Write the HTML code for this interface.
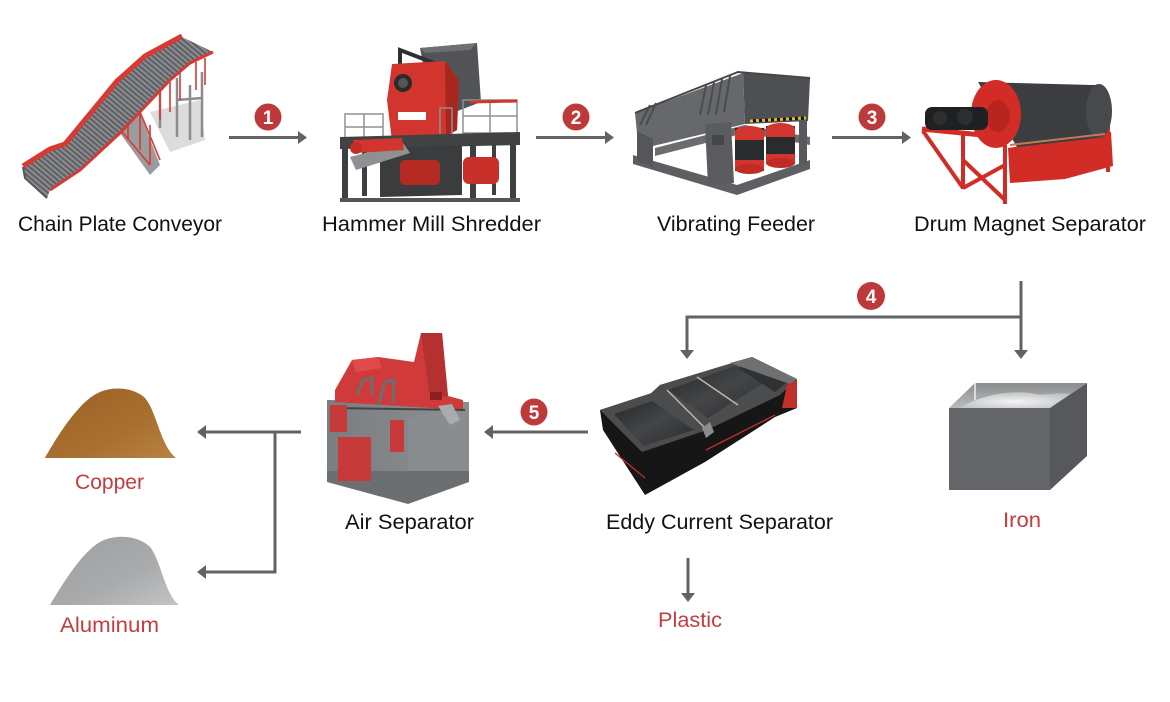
<!DOCTYPE html>
<html><head><meta charset="utf-8"><style>
html,body{margin:0;padding:0;background:#fff;}
svg{display:block;}
text{font-family:"Liberation Sans",sans-serif;}
</style></head><body>
<svg width="1170" height="702" viewBox="0 0 1170 702" xmlns="http://www.w3.org/2000/svg">
<defs>
<pattern id="slat" width="4" height="4" patternUnits="userSpaceOnUse" patternTransform="rotate(40)">
<rect width="4" height="4" fill="#898b8e"/><rect width="4" height="1.8" fill="#5a5c5f"/>
</pattern>
<linearGradient id="cu" x1="0" y1="0" x2="1" y2="1"><stop offset="0" stop-color="#9a6026"/><stop offset="0.6" stop-color="#a8702f"/><stop offset="1" stop-color="#b88240"/></linearGradient>
<linearGradient id="al" x1="0" y1="0" x2="1" y2="1"><stop offset="0" stop-color="#9c9ea0"/><stop offset="0.6" stop-color="#a9abad"/><stop offset="1" stop-color="#c2c4c6"/></linearGradient>
<linearGradient id="ironin" x1="0" y1="0" x2="0" y2="1"><stop offset="0" stop-color="#8a8c8e"/><stop offset="1" stop-color="#b9bbbd"/></linearGradient>
<radialGradient id="mound" cx="0.5" cy="0.6" r="0.6"><stop offset="0" stop-color="#f4f4f4"/><stop offset="1" stop-color="#bfc1c3"/></radialGradient>
<linearGradient id="airr" x1="0" y1="0" x2="1" y2="0"><stop offset="0" stop-color="#7b7e81"/><stop offset="1" stop-color="#8c8f92"/></linearGradient>
<linearGradient id="tray" x1="0" y1="0" x2="1" y2="1"><stop offset="0" stop-color="#262728"/><stop offset="0.5" stop-color="#444546"/><stop offset="1" stop-color="#2a2b2c"/></linearGradient>
</defs>

<!-- ================= CONVEYOR ================= -->
<polygon points="150,112 200,100 205,140 170,152" fill="#dcdcdc"/>
<g stroke="#8a8c8f" stroke-width="2.5" fill="none">
<line x1="177" y1="78" x2="177" y2="137"/><line x1="202" y1="72" x2="202" y2="137"/>
<line x1="190" y1="85" x2="190" y2="140"/><line x1="177" y1="100" x2="202" y2="98"/>
<line x1="160" y1="92" x2="160" y2="128"/>
</g>
<polygon points="120,133 140,113 160,165 150,175" fill="#9a9c9f"/>
<g stroke="#d63a33" stroke-width="1.6" fill="none">
<line x1="118" y1="127" x2="150" y2="165"/><line x1="138" y1="107" x2="160" y2="160"/>
<line x1="128" y1="118" x2="128" y2="140"/><line x1="140" y1="110" x2="140" y2="150"/><line x1="150" y1="125" x2="150" y2="165"/>
<line x1="160" y1="90" x2="160" y2="120"/><line x1="170" y1="82" x2="170" y2="112"/><line x1="180" y1="73" x2="180" y2="100"/><line x1="196" y1="62" x2="196" y2="90"/><line x1="205" y1="58" x2="205" y2="85"/>
</g>
<polygon points="23,167 50,150 65,145 117,82 145,57 182,37 213,52 190,63 170,80 120,133 80,170 50,190 47,198 25,178" fill="url(#slat)"/>
<polyline points="23,166 50,149 65,144 117,81 145,56 182,36" fill="none" stroke="#d63a33" stroke-width="5" stroke-linejoin="round"/>
<polyline points="213,52 190,63 170,80 120,133 80,170 50,190" fill="none" stroke="#d63a33" stroke-width="3" stroke-linejoin="round"/>
<polyline points="23,167 25,178 47,198" fill="none" stroke="#555" stroke-width="2"/>

<!-- ================= HAMMER MILL ================= -->
<polygon points="420,48 477,43 481,102 455,112 430,100" fill="#515356"/>
<polygon points="420,48 477,43 470,50 425,53" fill="#6e7073"/>
<path d="M400,78 L400,50 L447,68" stroke="#2e2f31" stroke-width="4" fill="none"/>
<polygon points="392,64 445,61 459,80 457,130 440,140 392,141 387,100" fill="#d2352d"/>
<polygon points="445,61 459,80 457,130 446,136" fill="#a7271f"/>
<circle cx="403" cy="83" r="9" fill="#2a2a2a"/><circle cx="403" cy="83" r="5" fill="#555"/>
<rect x="398" y="112" width="28" height="8" fill="#fff"/>
<g stroke="#8e9093" stroke-width="1.5" fill="none">
<rect x="345" y="114" width="38" height="26"/><line x1="345" y1="127" x2="383" y2="127"/><line x1="364" y1="114" x2="364" y2="140"/>
<rect x="463" y="100" width="54" height="33"/><line x1="463" y1="116" x2="517" y2="116"/><line x1="490" y1="100" x2="490" y2="133"/>
<rect x="440" y="108" width="12" height="28"/>
</g>
<line x1="470" y1="102" x2="517" y2="101" stroke="#d2352d" stroke-width="3"/>
<polygon points="340,137 520,132 520,145 340,149" fill="#414244"/>
<polygon points="380,148 462,145 462,195 380,197" fill="#3b3c3e"/>
<g fill="#3e3f41">
<rect x="342" y="148" width="6" height="52"/><rect x="362" y="150" width="5" height="46"/>
<rect x="470" y="145" width="6" height="56"/><rect x="510" y="145" width="6" height="56"/><rect x="492" y="145" width="4" height="50"/>
</g>
<rect x="463" y="157" width="36" height="27" rx="6" fill="#c9302a"/>
<rect x="400" y="160" width="40" height="25" rx="5" fill="#b62a24"/>
<polygon points="350,157 403,143 410,153 356,170" fill="#8e9093"/>
<polygon points="353,140 402,138 404,150 355,153" fill="#d2352d"/>
<circle cx="356" cy="148" r="6" fill="#c32d27"/>
<g fill="#555"><rect x="340" y="198" width="180" height="4"/></g>

<!-- ================= VIBRATING FEEDER ================= -->
<polygon points="633,155 737,185 810,160 810,169 737,195 633,164" fill="#5d5f62"/>
<polygon points="655,148 745,125 810,137 810,145 745,133 655,156" fill="#6a6c6f"/>
<polygon points="743,73 810,78 808,121 745,124" fill="#4d4f52"/>
<polygon points="635,113 743,73 745,124 653,146 637,133" fill="#66686b"/>
<polyline points="635,113 738,72 810,78" fill="none" stroke="#454649" stroke-width="2"/>
<g stroke="#4a4c4f" stroke-width="2">
<line x1="650" y1="105" x2="640" y2="125"/><line x1="656" y1="103" x2="646" y2="125"/>
<line x1="706" y1="85" x2="700" y2="115"/><line x1="714" y1="82" x2="708" y2="115"/><line x1="722" y1="79" x2="716" y2="115"/><line x1="730" y1="76" x2="724" y2="112"/>
</g>
<line x1="750" y1="121" x2="806" y2="118" stroke="#111" stroke-width="3"/>
<line x1="750" y1="121" x2="806" y2="118" stroke="#e5c020" stroke-width="3" stroke-dasharray="3 3"/>
<polygon points="705,124 731,122 734,183 708,186" fill="#5a5c5f"/>
<rect x="712" y="135" width="12" height="10" fill="#454649"/>
<polygon points="637,131 653,139 653,167 637,161" fill="#555659"/>
<rect x="799" y="120" width="8" height="45" fill="#58595c"/>
<rect x="735" y="128" width="29" height="43" fill="#2a2b2d"/>
<ellipse cx="749.5" cy="132" rx="14.5" ry="6" fill="#d2352d"/><rect x="735" y="132" width="29" height="8" fill="#d2352d"/>
<rect x="735" y="160" width="29" height="9" fill="#d2352d"/><ellipse cx="749.5" cy="169" rx="14.5" ry="5" fill="#c02b24"/>
<rect x="766" y="126" width="29" height="38" fill="#2a2b2d"/>
<ellipse cx="780.5" cy="129" rx="14.5" ry="6" fill="#d2352d"/><rect x="766" y="129" width="29" height="8" fill="#d2352d"/>
<rect x="766" y="154" width="29" height="9" fill="#d2352d"/><ellipse cx="780.5" cy="163" rx="14.5" ry="5" fill="#c02b24"/>

<!-- ================= DRUM MAGNET ================= -->
<polygon points="1008,148 1111,132 1113,166 1065,179 1010,183" fill="#d22c27"/>
<g stroke="#d22c27" stroke-width="4" fill="none">
<line x1="963" y1="135" x2="963" y2="189"/><line x1="1005" y1="145" x2="1005" y2="204"/><line x1="1108" y1="118" x2="1108" y2="172"/>
<line x1="923" y1="131" x2="963" y2="188"/><line x1="963" y1="160" x2="1005" y2="200"/><line x1="963" y1="188" x2="1005" y2="165"/>
</g>
<line x1="922" y1="129" x2="1012" y2="138" stroke="#d22c27" stroke-width="5"/>
<path d="M978,82 L1092,85 A14,27 0 0 1 1097,138 L1017,147 Z" fill="#3b3d40"/>
<ellipse cx="1099" cy="111" rx="13" ry="27" fill="#47494c"/>
<line x1="1010" y1="145" x2="1105" y2="134" stroke="#c07b52" stroke-width="2"/>
<ellipse cx="996" cy="114" rx="25" ry="34" fill="#d22c27"/>
<ellipse cx="998" cy="116" rx="12" ry="16" fill="#b8251f"/>
<rect x="925" y="107" width="63" height="23" rx="7" fill="#1f2022"/>
<circle cx="940" cy="118" r="7" fill="#2d2e30"/><circle cx="965" cy="117" r="8" fill="#2d2e30"/>

<!-- ================= ARROWS ================= -->
<g stroke="#636363" stroke-width="3" fill="none">
<line x1="229" y1="137.5" x2="299" y2="137.5"/>
<line x1="536" y1="137.5" x2="605" y2="137.5"/>
<line x1="832" y1="137.5" x2="902" y2="137.5"/>
<polyline points="1021,281 1021,351"/>
<polyline points="1021,317 687,317 687,351"/>
<polyline points="588,432 492,432"/>
<polyline points="301,432 205,432"/>
<polyline points="275,432 275,572 205,572"/>
<polyline points="688,558 688,594"/>
</g>
<g fill="#636363">
<polygon points="298,131 307,137.5 298,144"/>
<polygon points="605,131 614,137.5 605,144"/>
<polygon points="902,131 911,137.5 902,144"/>
<polygon points="1014,350 1028,350 1021,359"/>
<polygon points="680,350 694,350 687,359"/>
<polygon points="493,425 484,432 493,439"/>
<polygon points="206,425 197,432 206,439"/>
<polygon points="206,565 197,572 206,579"/>
<polygon points="681,593 695,593 688,602"/>
</g>

<!-- badges -->
<g>
<circle cx="268" cy="117" r="13.5" fill="#be3a3a"/>
<circle cx="576" cy="117" r="13.5" fill="#be3a3a"/>
<circle cx="872" cy="117" r="13.5" fill="#be3a3a"/>
<circle cx="871" cy="296" r="14" fill="#be3a3a"/>
<circle cx="534" cy="412" r="13.5" fill="#be3a3a"/>
</g>
<g fill="#fff" font-weight="bold" font-size="19" text-anchor="middle">
<text x="268" y="124">1</text>
<text x="576" y="124">2</text>
<text x="872" y="124">3</text>
<text x="871" y="303">4</text>
<text x="534" y="419">5</text>
</g>

<!-- ================= EDDY CURRENT ================= -->
<polygon points="600,410 652,393 660,385 752,357 797,380 797,408 775,417 705,462 645,495 603,430" fill="#161617"/>
<!-- left tray rim -->
<polygon points="600,410 652,393 707,430 642,452" fill="#4b4c4e"/>
<polygon points="614,414 652,401 694,430 643,446" fill="url(#tray)"/>
<!-- middle+right section top -->
<polygon points="660,385 752,357 797,379 780,395 707,430 650,394" fill="#4b4c4e"/>
<polygon points="668,390 735,366 768,380 708,418" fill="url(#tray)"/>
<polygon points="738,368 752,362 790,380 775,392" fill="#303132"/>
<polygon points="730,363 752,357 797,379 790,384" fill="#6e7072"/>
<!-- rails -->
<line x1="667" y1="390" x2="704" y2="427" stroke="#b8b8b8" stroke-width="1.5"/>
<line x1="697" y1="377" x2="738" y2="405" stroke="#b8b8b8" stroke-width="1.5"/>
<polygon points="702,428 710,422 714,432 706,438" fill="#8a8c8e"/>
<!-- red accents -->
<line x1="615" y1="453" x2="645" y2="478" stroke="#c0302b" stroke-width="1.3"/>
<line x1="706" y1="450" x2="775" y2="415" stroke="#c0302b" stroke-width="1.3"/>
<polygon points="787,385 797,380 797,408 782,408" fill="#c0302b"/>

<!-- ================= IRON BOX ================= -->
<polygon points="949,408 975,383 1087,383 1050,408" fill="url(#ironin)"/>
<path d="M960,408 C985,392 1020,390 1035,394 C1045,396 1055,392 1070,394 L1050,408 Z" fill="url(#mound)"/>
<line x1="975" y1="383" x2="975" y2="400" stroke="#f0f0f0" stroke-width="1.5"/>
<rect x="949" y="408" width="101" height="82" fill="#646568"/>
<polygon points="1050,408 1087,383 1087,456 1050,490" fill="#56585b"/>

<!-- ================= AIR SEPARATOR ================= -->
<polygon points="327,400 469,402 469,478 408,500 327,478" fill="url(#airr)"/>
<polygon points="408,418 469,402 469,478 408,500" fill="#8a8d90"/>
<polygon points="327,471 469,471 469,482 408,504 327,482" fill="#6c6f72"/>
<polygon points="335,390 352,360 378,357 414,362 421,333 442,333 448,396 463,400 463,410 335,402" fill="#d13a3a"/>
<polygon points="421,333 442,333 448,396 430,398" fill="#b53030"/>
<polygon points="352,360 378,357 382,368 356,372" fill="#e04a4a"/>
<g stroke="#6b6e71" stroke-width="3" fill="none">
<polyline points="357,395 363,380 372,378 372,395"/>
<polyline points="378,405 385,382 394,380 393,403"/>
</g>
<rect x="430" y="392" width="12" height="8" fill="#8a2020"/>
<line x1="332" y1="408" x2="465" y2="410" stroke="#444" stroke-width="2"/>
<polygon points="438,406 452,404 460,420 450,425" fill="#a9abad"/>
<rect x="330" y="405" width="17" height="27" fill="#c73a3a"/>
<rect x="390" y="420" width="14" height="32" fill="#c73a3a"/>
<rect x="338" y="437" width="33" height="44" fill="#c73a3a"/>

<!-- ================= PILES ================= -->
<path d="M45,458 C55,440 78,402 98,393 C112,386 133,387 145,398 C157,412 160,445 176,458 Z" fill="url(#cu)"/>
<path d="M50,605 C62,585 84,548 104,540 C119,534 140,536 151,548 C162,565 165,594 179,605 Z" fill="url(#al)"/>

<!-- ================= LABELS ================= -->
<g font-size="21" fill="#111">
<text x="18" y="231" textLength="204" lengthAdjust="spacingAndGlyphs">Chain Plate Conveyor</text>
<text x="322" y="231" textLength="219" lengthAdjust="spacingAndGlyphs">Hammer Mill Shredder</text>
<text x="657" y="231" textLength="158" lengthAdjust="spacingAndGlyphs">Vibrating Feeder</text>
<text x="914" y="231" textLength="232" lengthAdjust="spacingAndGlyphs">Drum Magnet Separator</text>
<text x="345" y="529" textLength="129" lengthAdjust="spacingAndGlyphs">Air Separator</text>
<text x="606" y="529" textLength="227" lengthAdjust="spacingAndGlyphs">Eddy Current Separator</text>
</g>
<g font-size="21" fill="#c43c3e">
<text x="1003" y="527" textLength="38" lengthAdjust="spacingAndGlyphs">Iron</text>
<text x="658" y="627" textLength="64" lengthAdjust="spacingAndGlyphs">Plastic</text>
<text x="75" y="489" textLength="69" lengthAdjust="spacingAndGlyphs">Copper</text>
<text x="60" y="632" textLength="99" lengthAdjust="spacingAndGlyphs">Aluminum</text>
</g>
</svg>
</body></html>
